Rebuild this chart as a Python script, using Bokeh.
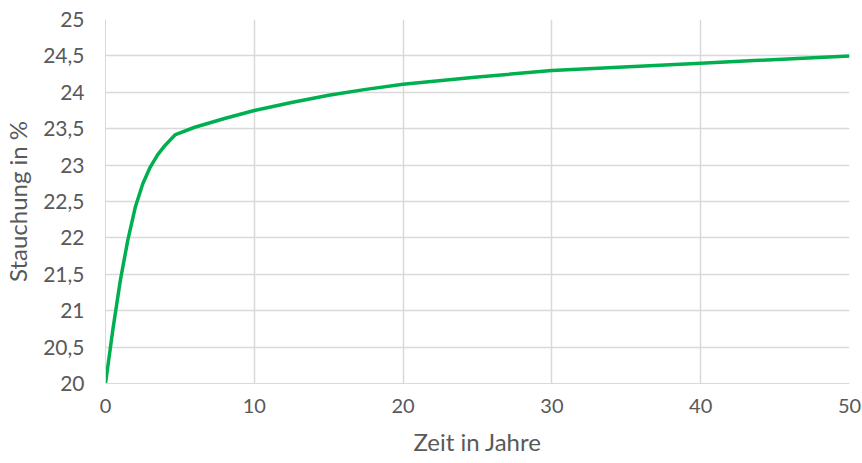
from bokeh.plotting import figure
from bokeh.embed import file_html
from bokeh.resources import INLINE
from bokeh.models import FixedTicker, Range1d

# Data
years = [0, 0.5, 1, 1.5, 2, 2.5, 3, 3.5, 4, 4.7, 6, 8, 10, 12.5, 15, 17.5, 20, 25, 30, 40, 50]
stauchung = [20.0, 20.75, 21.42, 21.97, 22.42, 22.74, 22.97, 23.14, 23.27, 23.42, 23.52, 23.64,
             23.75, 23.86, 23.96, 24.04, 24.11, 24.21, 24.3, 24.4, 24.5]

x_ticks = [0, 10, 20, 30, 40, 50]
x_tick_labels = ["0", "10", "20", "30", "40", "50"]
y_ticks = [20, 20.5, 21, 21.5, 22, 22.5, 23, 23.5, 24, 24.5, 25]
y_tick_labels = ["20", "20,5", "21", "21,5", "22", "22,5", "23", "23,5", "24", "24,5", "25"]

FONT = "Lato"
TXT = "#595959"
GRID = "#d9d9d9"

p = figure(width=862, height=463, output_backend="svg", toolbar_location=None,
           x_range=Range1d(0, 50), y_range=Range1d(20, 25),
           min_border_left=104, min_border_right=13, min_border_top=19, min_border_bottom=80)
p.outline_line_color = None
p.background_fill_color = "white"
p.border_fill_color = "white"

p.line(years, stauchung, line_color="#00B050", line_width=3.5, line_join="round")

p.xaxis.ticker = FixedTicker(ticks=x_ticks)
p.yaxis.ticker = FixedTicker(ticks=y_ticks)
p.xaxis.major_label_overrides = {t: l for t, l in zip(x_ticks, x_tick_labels)}
p.yaxis.major_label_overrides = {t: l for t, l in zip(y_ticks, y_tick_labels)}

for ax in (p.xaxis, p.yaxis):
    ax.axis_line_color = GRID
    ax.major_tick_line_color = None
    ax.minor_tick_line_color = None
    ax.major_tick_out = 0
    ax.major_tick_in = 0
    ax.major_label_text_font = FONT
    ax.major_label_text_color = TXT
    ax.axis_label_text_font = FONT
    ax.axis_label_text_color = TXT
    ax.axis_label_text_font_style = "normal"

p.xaxis.major_label_text_font_size = "20px"
p.yaxis.major_label_text_font_size = "21px"
p.xaxis.axis_label_text_font_size = "24px"
p.yaxis.axis_label_text_font_size = "24px"

p.xaxis.axis_label = "Zeit in Jahre"
p.yaxis.axis_label = "Stauchung in %"
p.yaxis.major_label_standoff = 21
p.xaxis.major_label_standoff = 15
p.yaxis.axis_label_standoff = 8
p.xaxis.axis_label_standoff = 11

p.xgrid.grid_line_color = GRID
p.ygrid.grid_line_color = GRID
p.xgrid.grid_line_width = 1.5
p.ygrid.grid_line_width = 1.5

open("out.html", "w").write(file_html(p, INLINE))
